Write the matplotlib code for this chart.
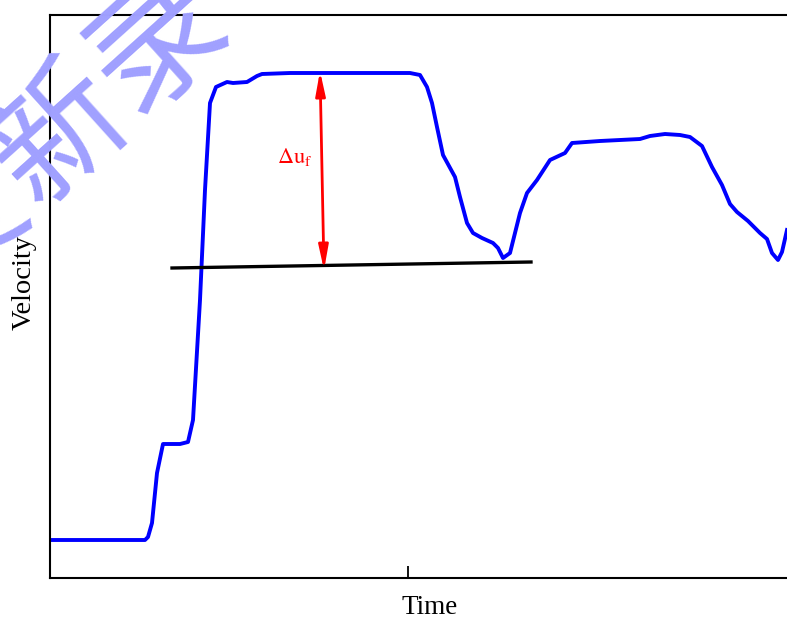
import numpy as np
import matplotlib.pyplot as plt

plt.rcParams['font.family'] = ['Liberation Serif', 'DejaVu Serif']
plt.rcParams['mathtext.fontset'] = 'stix'

# velocity trace (time, velocity) in arbitrary units
t = [0, 95, 98, 102, 107, 113, 130, 138, 143, 150, 155, 160, 166, 177, 183, 197, 207,
     212, 240, 280, 360, 370, 377, 382, 387, 393, 405, 410, 417, 423, 432, 443, 448,
     453, 460, 470, 477, 487, 500, 515, 522, 550, 590, 600, 615, 630, 640, 652, 662,
     672, 680, 687, 698, 710, 717, 722, 728, 732, 737]
v = [38, 38, 41, 55, 105, 134, 134, 136, 158, 278, 388, 475, 491, 496, 495, 496, 502,
     504, 505, 505, 505, 503, 491, 475, 451, 423, 401, 381, 355, 345, 340, 335, 330,
     320, 325, 365, 385, 398, 418, 425, 435, 437, 439, 442, 444, 443, 441, 432, 411,
     393, 374, 366, 357, 345, 339, 325, 318, 326, 348]

# baseline and velocity drop
base_t = [122, 481]
base_v = [310, 316]
du_t = [270, 274]
du_v = [507, 308]

fig = plt.figure(figsize=(7.87, 6.21), dpi=100)
ax = fig.add_axes([50 / 787, 43 / 621, 760 / 787, 563 / 621])

ax.plot(t, v, color='blue', lw=2.8, solid_joinstyle='round')
ax.plot(base_t, base_v, color='black', lw=2.4)
ax.annotate('', xy=(du_t[0], du_v[0]), xytext=(du_t[1], du_v[1]),
            arrowprops=dict(arrowstyle='<|-|>,head_length=0.9,head_width=0.18',
                            color='red', lw=2, mutation_scale=16,
                            shrinkA=0, shrinkB=0))
ax.text(245, 421, r'$\Delta\mathrm{u}_\mathrm{f}$', color='red', fontsize=16,
        ha='center', va='center')

ax.set_xlim(0, 760)
ax.set_ylim(0, 563)
ax.set_xticks([358])
ax.set_xticklabels([])
ax.set_yticks([])
ax.tick_params(axis='x', direction='in', length=9, width=1.3)
for s in ax.spines.values():
    s.set_linewidth(1.5)

ax.set_xlabel('Time', fontsize=19.5, labelpad=9)
ax.set_ylabel('Velocity', fontsize=20.5)
ax.yaxis.set_label_coords(-0.017, 0.525)

# watermark
fig.text(60 / 787, 1 - 135 / 621, '爱新录', color='#a0a0ff', fontsize=96,
         family=['Noto Sans CJK SC', 'DejaVu Sans'],
         rotation=42, ha='center', va='center', rotation_mode='anchor')

fig.savefig('out.png', dpi=100)
